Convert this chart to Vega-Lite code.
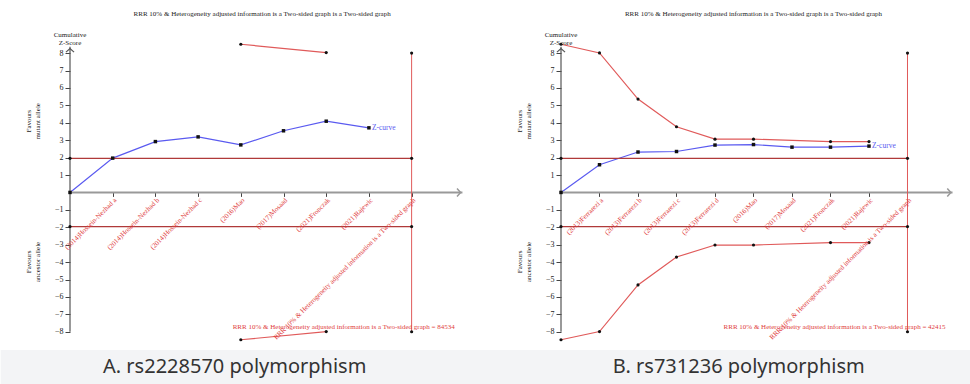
{
  "$schema": "https://vega.github.io/schema/vega-lite/v6.json",
  "padding": 0,
  "autosize": {"type": "pad"},
  "background": "white",
  "bounds": "flush",
  "spacing": 96,
  "config": {"view": {"stroke": null}, "text": {"font": "Liberation Serif"}, "axis": {"labelOverlap": false, "labelFlush": false}},
  "datasets": {
    "zA": [{"x":0,"z":0},{"x":1,"z":1.97},{"x":2,"z":2.92},{"x":3,"z":3.19},{"x":4,"z":2.73},{"x":5,"z":3.54},{"x":6,"z":4.09},{"x":7,"z":3.71}],
    "upA": [{"x":4,"z":8.51},{"x":6,"z":8.03}],
    "loA": [{"x":4,"z":-8.46},{"x":6,"z":-7.99}],
    "critA": [{"x":0,"x2":8,"z":1.96},{"x":0,"x2":8,"z":-1.96}],
    "edgeA": [{"x":8,"lo":-8,"hi":8}],
    "dotsA": [{"x":8,"z":8},{"x":8,"z":1.96},{"x":8,"z":-1.96},{"x":8,"z":-8},{"x":0,"z":1.96},{"x":0,"z":-1.96}],
    "labA": [
      {"x":1,"label":"(2014)Hossein-Nezhad a"},
      {"x":2,"label":"(2014)Hossein-Nezhad b"},
      {"x":3,"label":"(2014)Hossein-Nezhad c"},
      {"x":4,"label":"(2016)Mao"},
      {"x":5,"label":"(2017)Mosaad"},
      {"x":6,"label":"(2021)Fronczak"},
      {"x":7,"label":"(2021)Rajewic"},
      {"x":8,"label":"RRR 10% & Heterogeneity adjusted information is a Two-sided graph"}
    ],
    "zB": [{"x":0,"z":0},{"x":1,"z":1.59},{"x":2,"z":2.32},{"x":3,"z":2.35},{"x":4,"z":2.72},{"x":5,"z":2.75},{"x":6,"z":2.6},{"x":7,"z":2.6},{"x":8,"z":2.66}],
    "upB": [{"x":0,"z":8.51},{"x":1,"z":8.01},{"x":2,"z":5.36},{"x":3,"z":3.77},{"x":4,"z":3.06},{"x":5,"z":3.06},{"x":7,"z":2.92},{"x":8,"z":2.92}],
    "loB": [{"x":0,"z":-8.46},{"x":1,"z":-7.99},{"x":2,"z":-5.31},{"x":3,"z":-3.71},{"x":4,"z":-3.02},{"x":5,"z":-3.02},{"x":7,"z":-2.88},{"x":8,"z":-2.88}],
    "critB": [{"x":0,"x2":9,"z":1.96},{"x":0,"x2":9,"z":-1.96}],
    "edgeB": [{"x":9,"lo":-8,"hi":8}],
    "dotsB": [{"x":9,"z":8},{"x":9,"z":1.96},{"x":9,"z":-1.96},{"x":9,"z":-8},{"x":0,"z":1.96},{"x":0,"z":-1.96}],
    "labB": [
      {"x":1,"label":"(2013)Ferrarezi a"},
      {"x":2,"label":"(2013)Ferrarezi b"},
      {"x":3,"label":"(2013)Ferrarezi c"},
      {"x":4,"label":"(2013)Ferrarezi d"},
      {"x":5,"label":"(2016)Mao"},
      {"x":6,"label":"(2017)Mosaad"},
      {"x":7,"label":"(2021)Fronczak"},
      {"x":8,"label":"(2021)Rajewic"},
      {"x":9,"label":"RRR 10% & Heterogeneity adjusted information is a Two-sided graph"}
    ]
  },
  "hconcat": [
    {
      "width": 395,
      "height": 384,
      "layer": [
        {
          "data": {"values": [{}]},
          "mark": {"type": "rect", "color": "#f3f4f6"},
          "encoding": {
            "x": {"datum": -1.623, "type": "quantitative"},
            "x2": {"datum": 11.6},
            "y": {"datum": -9.05, "type": "quantitative"},
            "y2": {"datum": -11}
          }
        },
        {
          "data": {"name": "zA"},
          "mark": {"type": "line", "color": "#5a5af0", "strokeWidth": 1.2},
          "encoding": {
            "x": {"field": "x", "type": "quantitative", "scale": {"domain": [0, 9.25], "nice": false, "zero": false},
                  "axis": {"values": [1,2,3,4,5,6,7,8], "tickCount": 20, "orient": "bottom", "offset": -191.6, "domain": false, "labels": false, "ticks": true, "tickSize": 4, "tickColor": "#444", "grid": false, "title": null}},
            "y": {"field": "z", "type": "quantitative", "scale": {"domain": [-11, 11.05], "nice": false, "zero": false},
                  "axis": {"values": [-8,-7,-6,-5,-4,-3,-2,-1,1,2,3,4,5,6,7,8], "tickCount": 30, "domain": false, "tickSize": 5, "tickColor": "#444", "labelFont": "Liberation Serif", "labelFontSize": 8, "labelColor": "#222", "labelPadding": 2, "labelOverlap": false, "labelFlush": false, "grid": false, "title": null}}
          }
        },
        {
          "data": {"values": [{}]},
          "mark": {"type": "rule", "color": "#999", "strokeWidth": 2},
          "encoding": {"x": {"datum": 0, "type": "quantitative"}, "x2": {"datum": 9.19}, "y": {"datum": 0, "type": "quantitative"}}
        },
        {
          "data": {"values": [{}]},
          "mark": {"type": "point", "shape": "M-0.4,-0.9L0.4,0L-0.4,0.9", "size": 81, "filled": false, "stroke": "#999", "strokeWidth": 1.5, "opacity": 1},
          "encoding": {"x": {"datum": 9.105, "type": "quantitative"}, "y": {"datum": 0, "type": "quantitative"}}
        },
        {
          "data": {"values": [{}]},
          "mark": {"type": "rule", "color": "#555", "strokeWidth": 1.2},
          "encoding": {"x": {"datum": 0, "type": "quantitative"}, "y": {"datum": -8, "type": "quantitative"}, "y2": {"datum": 8.37}}
        },
        {
          "data": {"values": [{}]},
          "mark": {"type": "point", "shape": "M-0.9,0.4L0,-0.4L0.9,0.4", "size": 81, "filled": false, "stroke": "#555", "strokeWidth": 1.2, "opacity": 1},
          "encoding": {"x": {"datum": 0, "type": "quantitative"}, "y": {"datum": 8.16, "type": "quantitative"}}
        },
        {
          "data": {"name": "critA"},
          "mark": {"type": "rule", "color": "#b03a3a", "strokeWidth": 1.3},
          "encoding": {"x": {"field": "x", "type": "quantitative", "title": null}, "x2": {"field": "x2"}, "y": {"field": "z", "type": "quantitative", "title": null}}
        },
        {
          "data": {"name": "edgeA"},
          "mark": {"type": "rule", "color": "#e05a5a", "strokeWidth": 1},
          "encoding": {"x": {"field": "x", "type": "quantitative", "title": null}, "y": {"field": "lo", "type": "quantitative", "title": null}, "y2": {"field": "hi"}}
        },
        {
          "data": {"name": "upA"},
          "mark": {"type": "line", "color": "#e05a5a", "strokeWidth": 1.2},
          "encoding": {"x": {"field": "x", "type": "quantitative", "title": null}, "y": {"field": "z", "type": "quantitative", "title": null}}
        },
        {
          "data": {"name": "loA"},
          "mark": {"type": "line", "color": "#e05a5a", "strokeWidth": 1.2},
          "encoding": {"x": {"field": "x", "type": "quantitative", "title": null}, "y": {"field": "z", "type": "quantitative", "title": null}}
        },
        {
          "data": {"name": "upA"},
          "mark": {"type": "circle", "color": "#111", "size": 10, "opacity": 1},
          "encoding": {"x": {"field": "x", "type": "quantitative", "title": null}, "y": {"field": "z", "type": "quantitative", "title": null}}
        },
        {
          "data": {"name": "loA"},
          "mark": {"type": "circle", "color": "#111", "size": 10, "opacity": 1},
          "encoding": {"x": {"field": "x", "type": "quantitative", "title": null}, "y": {"field": "z", "type": "quantitative", "title": null}}
        },
        {
          "data": {"name": "dotsA"},
          "mark": {"type": "circle", "color": "#111", "size": 10, "opacity": 1},
          "encoding": {"x": {"field": "x", "type": "quantitative", "title": null}, "y": {"field": "z", "type": "quantitative", "title": null}}
        },
        {
          "data": {"name": "zA"},
          "mark": {"type": "square", "color": "#111", "size": 12, "opacity": 1},
          "encoding": {"x": {"field": "x", "type": "quantitative", "title": null}, "y": {"field": "z", "type": "quantitative", "title": null}}
        },
        {
          "data": {"name": "zA"},
          "transform": [{"filter": "datum.x == 7"}],
          "mark": {"type": "text", "font": "Liberation Serif", "color": "#5a5af0", "fontSize": 7.5, "align": "left", "baseline": "middle", "dx": 3},
          "encoding": {"x": {"field": "x", "type": "quantitative", "title": null}, "y": {"field": "z", "type": "quantitative", "title": null}, "text": {"value": "Z-curve"}}
        },
        {
          "data": {"name": "labA"},
          "mark": {"type": "text", "font": "Liberation Serif", "color": "#e03c3c", "fontSize": 7, "angle": 315, "align": "right", "baseline": "top", "yOffset": 4},
          "encoding": {"x": {"field": "x", "type": "quantitative", "title": null}, "y": {"datum": 0, "type": "quantitative"}, "text": {"field": "label"}}
        },
        {
          "data": {"values": [{}]},
          "mark": {"type": "text", "font": "Liberation Serif", "color": "#e03c3c", "fontSize": 7, "align": "right", "baseline": "middle"},
          "encoding": {"x": {"datum": 9.01, "type": "quantitative"}, "y": {"datum": -7.73, "type": "quantitative"}, "text": {"value": "RRR 10% & Heterogeneity adjusted information is a Two-sided graph = 84534"}}
        },
        {
          "data": {"values": [{}]},
          "mark": {"type": "text", "font": "Liberation Serif", "color": "#222", "fontSize": 7, "align": "center", "baseline": "middle"},
          "encoding": {"x": {"datum": 4.5, "type": "quantitative"}, "y": {"datum": 10.24, "type": "quantitative"}, "text": {"value": "RRR 10% & Heterogeneity adjusted information is a Two-sided graph is a Two-sided graph"}}
        },
        {
          "data": {"values": [{}]},
          "mark": {"type": "text", "font": "Liberation Serif", "color": "#222", "fontSize": 7, "align": "center", "baseline": "middle", "lineHeight": 8},
          "encoding": {"x": {"datum": 0, "type": "quantitative"}, "y": {"datum": 9.06, "type": "quantitative"}, "text": {"value": ["Cumulative", "Z-Score"]}}
        },
        {
          "data": {"values": [{}]},
          "mark": {"type": "text", "font": "Liberation Serif", "color": "#222", "fontSize": 7, "align": "center", "baseline": "middle", "lineHeight": 9, "angle": 270},
          "encoding": {"x": {"datum": -0.96, "type": "quantitative"}, "y": {"datum": 4.09, "type": "quantitative"}, "text": {"value": ["Favours", "mutant allele"]}}
        },
        {
          "data": {"values": [{}]},
          "mark": {"type": "text", "font": "Liberation Serif", "color": "#222", "fontSize": 7, "align": "center", "baseline": "middle", "lineHeight": 9, "angle": 270},
          "encoding": {"x": {"datum": -0.96, "type": "quantitative"}, "y": {"datum": -3.99, "type": "quantitative"}, "text": {"value": ["Favours", "ancestor allele"]}}
        },
        {
          "data": {"values": [{}]},
          "mark": {"type": "text", "color": "#333", "fontSize": 20, "font": "Noto Sans", "align": "center", "baseline": "middle"},
          "encoding": {"x": {"datum": 3.857, "type": "quantitative"}, "y": {"datum": -10.03, "type": "quantitative"}, "text": {"value": "A. rs2228570 polymorphism"}}
        }
      ]
    },
    {
      "width": 395,
      "height": 384,
      "layer": [
        {
          "data": {"values": [{}]},
          "mark": {"type": "rect", "color": "#f3f4f6"},
          "encoding": {
            "x": {"datum": 0, "type": "quantitative"},
            "x2": {"datum": 10.64},
            "y": {"datum": -9.05, "type": "quantitative"},
            "y2": {"datum": -11}
          }
        },
        {
          "data": {"name": "zB"},
          "mark": {"type": "line", "color": "#5a5af0", "strokeWidth": 1.2},
          "encoding": {
            "x": {"field": "x", "type": "quantitative", "scale": {"domain": [0, 10.26], "nice": false, "zero": false},
                  "axis": {"values": [1,2,3,4,5,6,7,8,9], "tickCount": 20, "orient": "bottom", "offset": -191.6, "domain": false, "labels": false, "ticks": true, "tickSize": 4, "tickColor": "#444", "grid": false, "title": null}},
            "y": {"field": "z", "type": "quantitative", "scale": {"domain": [-11, 11.05], "nice": false, "zero": false},
                  "axis": {"values": [-8,-7,-6,-5,-4,-3,-2,-1,1,2,3,4,5,6,7,8], "tickCount": 30, "domain": false, "tickSize": 5, "tickColor": "#444", "labelFont": "Liberation Serif", "labelFontSize": 8, "labelColor": "#222", "labelPadding": 2, "labelOverlap": false, "labelFlush": false, "grid": false, "title": null}}
          }
        },
        {
          "data": {"values": [{}]},
          "mark": {"type": "rule", "color": "#999", "strokeWidth": 2},
          "encoding": {"x": {"datum": 0, "type": "quantitative"}, "x2": {"datum": 10.17}, "y": {"datum": 0, "type": "quantitative"}}
        },
        {
          "data": {"values": [{}]},
          "mark": {"type": "point", "shape": "M-0.4,-0.9L0.4,0L-0.4,0.9", "size": 81, "filled": false, "stroke": "#999", "strokeWidth": 1.5, "opacity": 1},
          "encoding": {"x": {"datum": 10.08, "type": "quantitative"}, "y": {"datum": 0, "type": "quantitative"}}
        },
        {
          "data": {"values": [{}]},
          "mark": {"type": "rule", "color": "#555", "strokeWidth": 1.2},
          "encoding": {"x": {"datum": 0, "type": "quantitative"}, "y": {"datum": -8, "type": "quantitative"}, "y2": {"datum": 8.37}}
        },
        {
          "data": {"values": [{}]},
          "mark": {"type": "point", "shape": "M-0.9,0.4L0,-0.4L0.9,0.4", "size": 81, "filled": false, "stroke": "#555", "strokeWidth": 1.2, "opacity": 1},
          "encoding": {"x": {"datum": 0, "type": "quantitative"}, "y": {"datum": 8.16, "type": "quantitative"}}
        },
        {
          "data": {"name": "critB"},
          "mark": {"type": "rule", "color": "#b03a3a", "strokeWidth": 1.3},
          "encoding": {"x": {"field": "x", "type": "quantitative", "title": null}, "x2": {"field": "x2"}, "y": {"field": "z", "type": "quantitative", "title": null}}
        },
        {
          "data": {"name": "edgeB"},
          "mark": {"type": "rule", "color": "#e05a5a", "strokeWidth": 1},
          "encoding": {"x": {"field": "x", "type": "quantitative", "title": null}, "y": {"field": "lo", "type": "quantitative", "title": null}, "y2": {"field": "hi"}}
        },
        {
          "data": {"name": "upB"},
          "mark": {"type": "line", "color": "#e05a5a", "strokeWidth": 1.2},
          "encoding": {"x": {"field": "x", "type": "quantitative", "title": null}, "y": {"field": "z", "type": "quantitative", "title": null}}
        },
        {
          "data": {"name": "loB"},
          "mark": {"type": "line", "color": "#e05a5a", "strokeWidth": 1.2},
          "encoding": {"x": {"field": "x", "type": "quantitative", "title": null}, "y": {"field": "z", "type": "quantitative", "title": null}}
        },
        {
          "data": {"name": "upB"},
          "mark": {"type": "circle", "color": "#111", "size": 10, "opacity": 1},
          "encoding": {"x": {"field": "x", "type": "quantitative", "title": null}, "y": {"field": "z", "type": "quantitative", "title": null}}
        },
        {
          "data": {"name": "loB"},
          "mark": {"type": "circle", "color": "#111", "size": 10, "opacity": 1},
          "encoding": {"x": {"field": "x", "type": "quantitative", "title": null}, "y": {"field": "z", "type": "quantitative", "title": null}}
        },
        {
          "data": {"name": "dotsB"},
          "mark": {"type": "circle", "color": "#111", "size": 10, "opacity": 1},
          "encoding": {"x": {"field": "x", "type": "quantitative", "title": null}, "y": {"field": "z", "type": "quantitative", "title": null}}
        },
        {
          "data": {"name": "zB"},
          "mark": {"type": "square", "color": "#111", "size": 12, "opacity": 1},
          "encoding": {"x": {"field": "x", "type": "quantitative", "title": null}, "y": {"field": "z", "type": "quantitative", "title": null}}
        },
        {
          "data": {"name": "zB"},
          "transform": [{"filter": "datum.x == 8"}],
          "mark": {"type": "text", "font": "Liberation Serif", "color": "#5a5af0", "fontSize": 7.5, "align": "left", "baseline": "middle", "dx": 3},
          "encoding": {"x": {"field": "x", "type": "quantitative", "title": null}, "y": {"field": "z", "type": "quantitative", "title": null}, "text": {"value": "Z-curve"}}
        },
        {
          "data": {"name": "labB"},
          "mark": {"type": "text", "font": "Liberation Serif", "color": "#e03c3c", "fontSize": 7, "angle": 315, "align": "right", "baseline": "top", "yOffset": 4},
          "encoding": {"x": {"field": "x", "type": "quantitative", "title": null}, "y": {"datum": 0, "type": "quantitative"}, "text": {"field": "label"}}
        },
        {
          "data": {"values": [{}]},
          "mark": {"type": "text", "font": "Liberation Serif", "color": "#e03c3c", "fontSize": 7, "align": "right", "baseline": "middle"},
          "encoding": {"x": {"datum": 9.99, "type": "quantitative"}, "y": {"datum": -7.73, "type": "quantitative"}, "text": {"value": "RRR 10% & Heterogeneity adjusted information is a Two-sided graph = 42415"}}
        },
        {
          "data": {"values": [{}]},
          "mark": {"type": "text", "font": "Liberation Serif", "color": "#222", "fontSize": 7, "align": "center", "baseline": "middle"},
          "encoding": {"x": {"datum": 5.0, "type": "quantitative"}, "y": {"datum": 10.24, "type": "quantitative"}, "text": {"value": "RRR 10% & Heterogeneity adjusted information is a Two-sided graph is a Two-sided graph"}}
        },
        {
          "data": {"values": [{}]},
          "mark": {"type": "text", "font": "Liberation Serif", "color": "#222", "fontSize": 7, "align": "center", "baseline": "middle", "lineHeight": 8},
          "encoding": {"x": {"datum": 0, "type": "quantitative"}, "y": {"datum": 9.06, "type": "quantitative"}, "text": {"value": ["Cumulative", "Z-Score"]}}
        },
        {
          "data": {"values": [{}]},
          "mark": {"type": "text", "font": "Liberation Serif", "color": "#222", "fontSize": 7, "align": "center", "baseline": "middle", "lineHeight": 9, "angle": 270},
          "encoding": {"x": {"datum": -1.065, "type": "quantitative"}, "y": {"datum": 4.09, "type": "quantitative"}, "text": {"value": ["Favours", "mutant allele"]}}
        },
        {
          "data": {"values": [{}]},
          "mark": {"type": "text", "font": "Liberation Serif", "color": "#222", "fontSize": 7, "align": "center", "baseline": "middle", "lineHeight": 9, "angle": 270},
          "encoding": {"x": {"datum": -1.065, "type": "quantitative"}, "y": {"datum": -3.99, "type": "quantitative"}, "text": {"value": ["Favours", "ancestor allele"]}}
        },
        {
          "data": {"values": [{}]},
          "mark": {"type": "text", "color": "#333", "fontSize": 20, "font": "Noto Sans", "align": "center", "baseline": "middle"},
          "encoding": {"x": {"datum": 4.616, "type": "quantitative"}, "y": {"datum": -10.03, "type": "quantitative"}, "text": {"value": "B. rs731236 polymorphism"}}
        }
      ]
    }
  ]
}
